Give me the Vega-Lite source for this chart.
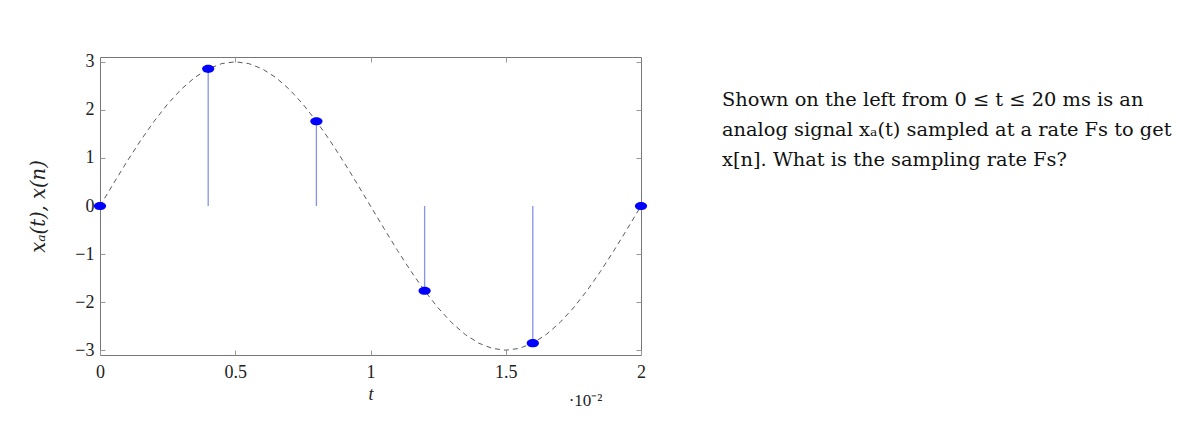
{
  "$schema": "https://vega.github.io/schema/vega-lite/v6.json",
  "autosize": {"type": "none"},
  "padding": {"left": 100, "top": 57, "right": 559, "bottom": 70},
  "width": 541,
  "height": 298,
  "background": "white",
  "config": {
    "view": {"stroke": "#777777", "strokeWidth": 1},
    "axis": {"grid": false, "domain": false, "labelFont": "Liberation Serif", "titleFont": "Liberation Serif", "labelFontSize": 18, "titleFontSize": 18, "titleFontWeight": "normal", "labelColor": "#222222", "titleColor": "#222222", "tickColor": "#999999"}
  },
  "title": {
    "text": ["Shown on the left from 0 ≤ t ≤ 20 ms is an", "analog signal xₐ(t) sampled at a rate Fs to get", "x[n]. What is the sampling rate Fs?"],
    "orient": "top",
    "anchor": "start",
    "frame": "group",
    "align": "left",
    "baseline": "top",
    "offset": 0,
    "dx": 622,
    "dy": 118,
    "font": "DejaVu Serif",
    "fontSize": 19.4,
    "fontWeight": "normal",
    "lineHeight": 30,
    "color": "#111111"
  },
  "datasets": {
    "curve": [
      {"t": 0, "v": 0}, {"t": 0.05, "v": 0.469}, {"t": 0.1, "v": 0.927}, {"t": 0.15, "v": 1.362}, {"t": 0.2, "v": 1.763},
      {"t": 0.25, "v": 2.121}, {"t": 0.3, "v": 2.427}, {"t": 0.35, "v": 2.673}, {"t": 0.4, "v": 2.853}, {"t": 0.45, "v": 2.963},
      {"t": 0.5, "v": 3}, {"t": 0.55, "v": 2.963}, {"t": 0.6, "v": 2.853}, {"t": 0.65, "v": 2.673}, {"t": 0.7, "v": 2.427},
      {"t": 0.75, "v": 2.121}, {"t": 0.8, "v": 1.763}, {"t": 0.85, "v": 1.362}, {"t": 0.9, "v": 0.927}, {"t": 0.95, "v": 0.469},
      {"t": 1.0, "v": 0}, {"t": 1.05, "v": -0.469}, {"t": 1.1, "v": -0.927}, {"t": 1.15, "v": -1.362}, {"t": 1.2, "v": -1.763},
      {"t": 1.25, "v": -2.121}, {"t": 1.3, "v": -2.427}, {"t": 1.35, "v": -2.673}, {"t": 1.4, "v": -2.853}, {"t": 1.45, "v": -2.963},
      {"t": 1.5, "v": -3}, {"t": 1.55, "v": -2.963}, {"t": 1.6, "v": -2.853}, {"t": 1.65, "v": -2.673}, {"t": 1.7, "v": -2.427},
      {"t": 1.75, "v": -2.121}, {"t": 1.8, "v": -1.763}, {"t": 1.85, "v": -1.362}, {"t": 1.9, "v": -0.927}, {"t": 1.95, "v": -0.469},
      {"t": 2.0, "v": 0}
    ],
    "samples": [
      {"t": 0, "v": 0}, {"t": 0.4, "v": 2.853}, {"t": 0.8, "v": 1.763},
      {"t": 1.2, "v": -1.763}, {"t": 1.6, "v": -2.853}, {"t": 2.0, "v": 0}
    ]
  },
  "resolve": {"axis": {"x": "independent", "y": "independent"}},
  "layer": [
    {
      "data": {"name": "curve"},
      "mark": {"type": "line", "color": "#5a5a5a", "strokeWidth": 1, "strokeDash": [5, 4]},
      "encoding": {
        "x": {"field": "t", "type": "quantitative", "scale": {"domain": [0, 2], "nice": false, "zero": false},
              "axis": {"orient": "bottom", "values": [0, 0.5, 1, 1.5, 2], "tickSize": -5, "labelPadding": 13, "labelFontSize": 18, "labelFlush": false, "labelExpr": "datum.value", "title": "t", "titleFontStyle": "italic", "titleFontSize": 18, "titlePadding": 4}},
        "y": {"field": "v", "type": "quantitative", "scale": {"domain": [-3.1, 3.1], "nice": false, "zero": false},
              "axis": {"orient": "left", "values": [-3, -2, -1, 0, 1, 2, 3], "tickSize": -5, "labelPadding": 11, "labelFontSize": 18, "labelExpr": "replace(datum.label, '-', '−')", "title": "xₐ(t), x(n)", "titleFont": "DejaVu Serif", "titleFontStyle": "italic", "titleFontSize": 19.5, "titlePadding": 26}}
      }
    },
    {
      "data": {"name": "samples"},
      "mark": {"type": "rule", "color": "#6a78e0", "strokeWidth": 1.3, "opacity": 0.8},
      "encoding": {
        "x": {"field": "t", "type": "quantitative",
              "axis": {"orient": "top", "values": [0.5, 1, 1.5], "tickSize": -5, "labels": false, "title": null}},
        "y": {"field": "v", "type": "quantitative",
              "axis": {"orient": "right", "values": [-3, -2, -1, 0, 1, 2, 3], "tickSize": -5, "labels": false, "title": null}},
        "y2": {"datum": 0}
      }
    },
    {
      "data": {"name": "samples"},
      "mark": {"type": "point", "shape": "M-1,0A1,0.67 0 1,0 1,0A1,0.67 0 1,0 -1,0Z", "size": 150, "filled": true, "color": "#0000ff", "opacity": 1},
      "encoding": {
        "x": {"field": "t", "type": "quantitative",
              "axis": {"orient": "bottom", "ticks": false, "labels": false, "title": "·10⁻²", "titleFontSize": 17, "titleX": 485, "titleY": 50, "titleAlign": "center", "titleBaseline": "alphabetic"}},
        "y": {"field": "v", "type": "quantitative", "axis": null}
      }
    }
  ]
}
